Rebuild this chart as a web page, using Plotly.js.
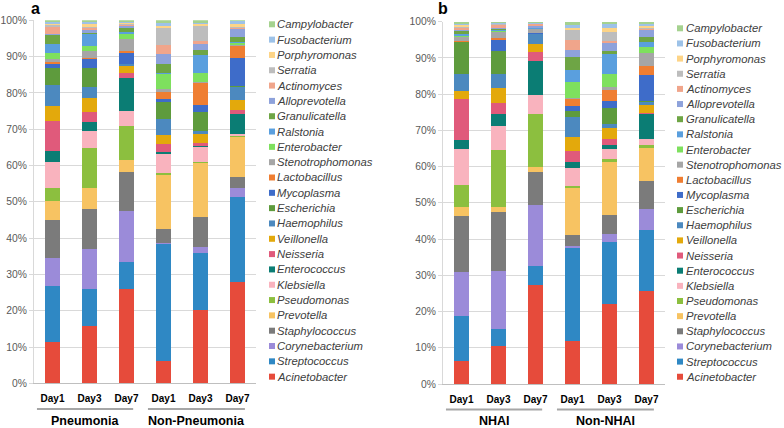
<!DOCTYPE html>
<html>
<head>
<meta charset="utf-8">
<script src="https://cdn.plot.ly/plotly-3.0.1.min.js"></script>
<style>html,body{margin:0;padding:0;background:#fff;}#chart{width:784px;height:428px;}</style>
</head>
<body>
<div id="chart"></div>
<script>
// Genera, listed bottom-of-stack first
const genera = ['Acinetobacter','Streptococcus','Corynebacterium','Staphylococcus','Prevotella','Pseudomonas','Klebsiella','Enterococcus','Neisseria','Veillonella','Haemophilus','Escherichia','Mycoplasma','Lactobacillus','Stenotrophomonas','Enterobacter','Ralstonia','Granulicatella','Alloprevotella','Actinomyces','Serratia','Porphyromonas','Fusobacterium','Campylobacter'];
const colors = ['#E64B3B','#2F88C4','#9B8BD9','#7B7B7B','#F7C362','#8CBF3F','#F9B3BE','#0B7D74','#E05A7B','#E3A90C','#4C89BF','#5E9B3D','#3E6CC9','#EF7E32','#A6A6A6','#7EE05E','#5A9FDE','#6EA545','#8EA2DB','#F0A58B','#BDBDBD','#FDD487','#9DC2E8','#A5D28F'];

const days = ['Day1','Day3','Day7'];
const groupsA = ['Pneumonia','Non-Pneumonia'];
const groupsB = ['NHAI','Non-NHAI'];

// Panel a: relative abundance (%) per sample, bottom-of-stack first
const pneuDay1    = [11.5,15.3,7.7,10.5,5.2,3.7,7.1,3.0,8.2,4.2,5.8,4.6,1.1,0.7,0.7,1.6,2.7,2.3,0.4,1.9,0.4,0.5,0.3,0.6];
const pneuDay3    = [15.8,10.2,10.9,11.2,5.8,10.9,4.6,2.5,2.8,4.0,2.8,5.3,2.5,0.4,1.9,1.4,3.1,0.5,0.8,0.5,0.3,0.7,0.5,0.6];
const pneuDay7    = [26.0,7.5,13.9,10.8,3.2,9.4,4.2,9.1,1.4,1.8,0.6,0.1,3.0,0.5,3.3,1.3,0.8,0.9,0.5,0.4,0.2,0.4,0.2,0.5];
const nonPneuDay1 = [6.1,32.2,0.4,3.7,15.1,0.4,5.3,0.4,2.2,2.5,4.6,4.6,0.7,2.1,0.7,4.3,0.3,2.5,2.5,2.5,4.8,0.5,0.8,0.8];
const nonPneuDay3 = [20.2,15.6,1.8,8.3,14.8,0.3,4.1,0.2,0.9,2.6,0.6,5.4,1.8,6.0,0.4,2.6,4.8,1.3,1.9,0.6,4.1,0.6,0.4,0.7];
const nonPneuDay7 = [28.0,23.4,2.5,2.8,11.2,0.1,0.8,5.5,0.9,2.8,3.7,0.1,7.9,3.1,0.3,0.6,0.3,1.4,2.3,0.2,0.2,1.0,0.6,0.3];

// Panel b
const nhaiDay1    = [6.4,12.3,12.1,15.7,2.4,6.0,10.0,2.5,11.3,2.2,4.6,8.8,0.2,0.2,1.1,0.3,0.4,1.0,0.3,0.5,0.3,0.5,0.3,0.6];
const nhaiDay3    = [10.4,4.8,16.1,16.2,1.3,15.8,6.7,3.2,3.1,4.0,3.9,6.5,2.9,0.5,1.7,0.2,0.3,0.4,0.2,0.9,0.2,0.2,0.1,0.4];
const nhaiDay7    = [27.3,5.3,16.8,9.2,1.3,14.6,5.4,9.2,2.5,2.2,2.7,0.1,0.3,0.1,1.0,0.1,0.1,0.1,0.4,0.6,0.1,0.1,0.1,0.4];
const nonNhaiDay1 = [11.9,25.6,0.5,3.1,12.9,0.6,4.9,1.8,3.1,3.8,5.6,1.6,1.4,1.9,0.3,4.4,3.3,3.5,1.9,2.8,2.8,0.6,0.8,0.9];
const nonNhaiDay3 = [22.2,17.1,2.1,5.3,14.7,0.7,2.9,1.1,1.5,3.0,1.1,4.4,2.0,3.0,1.0,3.4,5.5,0.9,2.1,0.7,2.5,1.1,1.0,0.7];
const nonNhaiDay7 = [25.8,16.6,5.9,7.8,9.1,0.8,1.5,6.9,0.5,2.1,0.9,0.2,7.2,2.5,3.5,1.8,1.2,1.6,1.8,0.2,0.3,0.7,0.6,0.5];

const samplesA = [pneuDay1, pneuDay3, pneuDay7, nonPneuDay1, nonPneuDay3, nonPneuDay7];
const samplesB = [nhaiDay1, nhaiDay3, nhaiDay7, nonNhaiDay1, nonNhaiDay3, nonNhaiDay7];

const W = 784, H = 428;
const FONT = 'Liberation Sans, Arial, sans-serif';
const catsA = groupsA.flatMap(g => days.map(d => g + ' ' + d));
const catsB = groupsB.flatMap(g => days.map(d => g + ' ' + d));
const tickDays = groupsA.flatMap(() => days);

const traces = [];
genera.forEach((g, i) => {
  traces.push({type:'bar', name:g, x:catsA, y:samplesA.map(s => s[i]), xaxis:'x', yaxis:'y',
    marker:{color:colors[i], line:{width:0}}, showlegend:false});
  traces.push({type:'bar', name:g, x:catsB, y:samplesB.map(s => s[i]), xaxis:'x2', yaxis:'y2',
    marker:{color:colors[i], line:{width:0}}, showlegend:false});
});

const px = v => v / W;
const py = v => 1 - v / H;

const yax = (domTop, domBot) => ({
  domain:[py(domBot), py(domTop)], range:[0,100], dtick:10, ticksuffix:'%',
  showgrid:true, gridcolor:'#d9d9d9', gridwidth:1, zeroline:false,
  showline:true, linecolor:'#d9d9d9', linewidth:1,
  ticks:'outside', ticklen:4, tickcolor:'#d9d9d9',
  tickfont:{family:FONT, size:10.3, color:'#595959'}, fixedrange:true
});
const xax = (x0, x1, cats) => ({
  domain:[px(x0), px(x1)], type:'category', categoryorder:'array', categoryarray:cats,
  tickvals:cats, ticktext:tickDays, ticks:'', showgrid:false, zeroline:false,
  showline:true, linecolor:'#bfbfbf', linewidth:1, ticklabelstandoff:6,
  tickfont:{family:FONT, size:10, color:'#000', weight:700}, fixedrange:true
});

const annotations = [];
const shapes = [];

// Legends (manual, to reproduce tight spacing)
function legend(sqX, txtX, topY, step) {
  const order = genera.map((g, i) => i).reverse();
  order.forEach((gi, k) => {
    const y = topY + k * step;
    shapes.push({type:'rect', xref:'paper', yref:'paper', x0:px(sqX), x1:px(sqX + 6), y0:py(y + 3), y1:py(y - 3),
      fillcolor:colors[gi], line:{width:0}});
    annotations.push({xref:'paper', yref:'paper', x:px(txtX), y:py(y), xanchor:'left', yanchor:'middle',
      text:'<i>' + genera[gi] + '</i>', showarrow:false, borderpad:0,
      font:{family:FONT, size:11.3, color:'#404040'}});
  });
}
legend(269, 276, 24.3, 15.32);
legend(677, 684.5, 28.3, 15.15);

// Group labels and underlines
function groups(xref, names, labY, lineY) {
  const spans = [[-0.42, 2.18], [2.58, 5.2]];
  names.forEach((n, j) => {
    shapes.push({type:'line', xref:xref, yref:'paper', x0:spans[j][0], x1:spans[j][1], y0:py(lineY), y1:py(lineY),
      line:{color:'#a6a6a6', width:2}});
    annotations.push({xref:xref, yref:'paper', x:(spans[j][0] + spans[j][1]) / 2, y:py(labY), xanchor:'center', yanchor:'middle',
      text:'<b>' + n + '</b>', showarrow:false, font:{family:FONT, size:12.5, color:'#000'}});
  });
}
groups('x', groupsA, 421, 409);
groups('x2', groupsB, 421, 409.5);

// Panel letters
annotations.push({xref:'paper', yref:'paper', x:px(35.5), y:py(8), xanchor:'center', yanchor:'middle',
  text:'<b>a</b>', showarrow:false, font:{family:FONT, size:16, color:'#000'}});
annotations.push({xref:'paper', yref:'paper', x:px(443), y:py(8), xanchor:'center', yanchor:'middle',
  text:'<b>b</b>', showarrow:false, font:{family:FONT, size:16, color:'#000'}});

const layout = {
  width:W, height:H, margin:{l:0, r:0, t:0, b:0},
  paper_bgcolor:'#fff', plot_bgcolor:'#fff',
  barmode:'stack', bargap:0.59, showlegend:false,
  xaxis:Object.assign(xax(34, 256, catsA), {anchor:'y'}), yaxis:yax(20.3, 383.3),
  xaxis2:Object.assign(xax(443, 665, catsB), {anchor:'y2'}), yaxis2:Object.assign(yax(21.7, 384), {anchor:'x2'}),
  annotations:annotations, shapes:shapes
};

Plotly.newPlot('chart', traces, layout, {displayModeBar:false, staticPlot:true});
</script>
</body>
</html>
